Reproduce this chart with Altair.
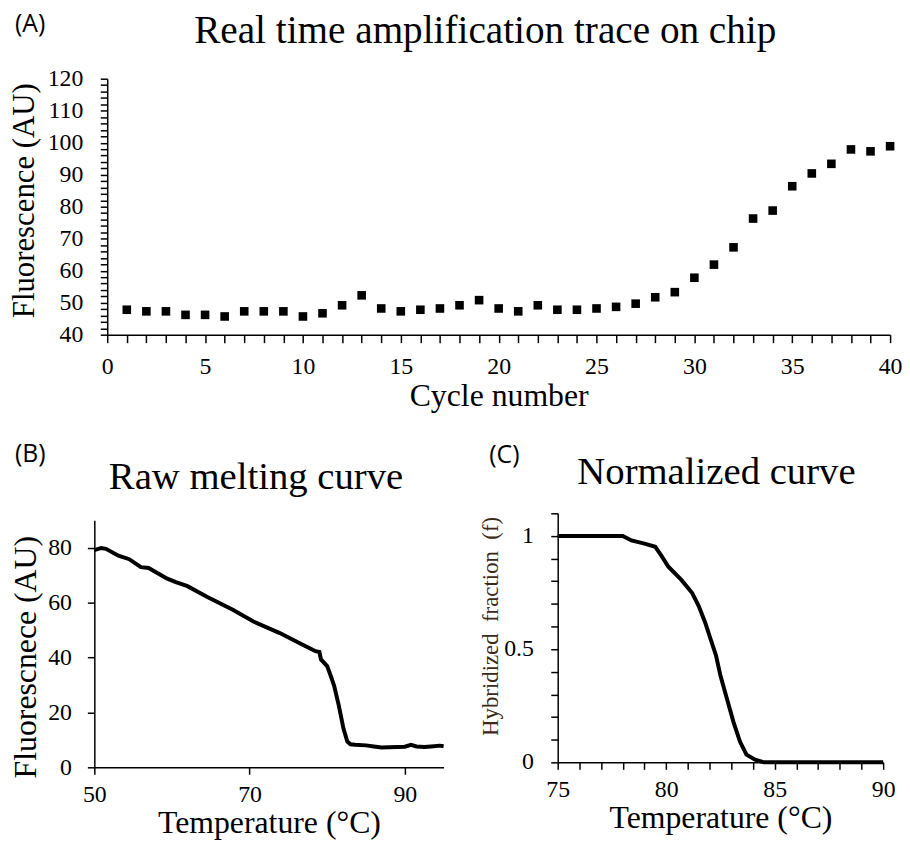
import altair as alt
import pandas as pd

# ---------------- data ----------------
cycles = list(range(1, 41))
fluorescence = [47.8, 47.3, 47.3, 46.2, 46.2, 45.7, 47.3, 47.3, 47.3, 45.7,
                46.7, 49.2, 52.3, 48.2, 47.3, 47.8, 48.2, 49.2, 50.8, 48.2,
                47.3, 49.2, 47.8, 47.8, 48.2, 48.7, 49.7, 51.7, 53.3, 57.8,
                61.9, 67.3, 76.3, 78.8, 86.4, 90.4, 93.4, 97.9, 97.3, 98.9]

raw_temp = [50.0, 50.9, 51.5, 53.1, 54.5, 56.0, 57.0, 58.0, 59.4, 60.5,
            62.0, 64.5, 67.9, 70.5, 73.9, 76.4, 78.0, 78.5, 79.0, 79.2,
            80.0, 80.5, 80.9, 81.5, 82.1, 82.6, 83.0, 83.6, 85.0, 86.0,
            87.0, 88.0, 89.0, 90.0, 90.8, 91.5, 92.5, 93.4, 94.5, 95.0]
raw_fluor = [79.1, 79.9, 79.6, 77.1, 75.8, 72.9, 72.6, 71.0, 68.7, 67.5,
             66.0, 62.1, 57.3, 53.1, 48.9, 45.3, 43.0, 42.3, 42.0, 39.3,
             36.9, 33.0, 29.7, 22.5, 14.1, 9.4, 8.4, 8.2, 8.0, 7.6,
             7.2, 7.3, 7.4, 7.5, 8.2, 7.6, 7.4, 7.6, 7.9, 7.7]

norm_temp = [75.0, 78.0, 78.4, 79.0, 79.5, 79.8, 80.1, 80.7, 81.2, 81.5,
             81.8, 82.1, 82.3, 82.5, 82.8, 83.1, 83.4, 83.7, 84.1, 84.5, 90.0]
norm_frac = [1.0, 1.0, 0.98, 0.966, 0.952, 0.91, 0.864, 0.806, 0.748, 0.69,
             0.617, 0.529, 0.471, 0.383, 0.281, 0.179, 0.092, 0.034, 0.012, 0.0, 0.0]

# ticks and tick labels
a_x_ticks = list(range(0, 41))
a_y_ticks = list(range(40, 121, 2))
a_y_label_values = [40, 50, 60, 70, 80, 90, 100, 110, 120]
a_y_label_text = ["40", "50", "60", "70", "80", "90", "100", "110", "120"]
b_x_ticks = [50, 70, 90]
b_y_ticks = [0, 20, 40, 60, 80]
c_x_ticks = list(range(75, 91))
c_y_ticks = [round(i * 0.1, 1) for i in range(0, 12)]
c_y_label_values = [0, 0.5, 1]
c_y_label_text = ["0", "0.5", "1"]

panel_labels = ["(A)", "(B)", "(C)"]
panel_titles = ["Real time amplification trace on chip", "Raw melting curve", "Normalized curve"]
y_titles = ["Fluorescence (AU)", "Fluorescnece (AU)", "Hybridized\u00a0\u00a0fraction\u00a0\u00a0(f)"]

SERIF = "Liberation Serif"
SANS = "Open Sans"

dfA = pd.DataFrame({"cycle": cycles, "fluor": fluorescence})
dfA_lab = pd.DataFrame({"fluor": a_y_label_values, "txt": a_y_label_text})
dfB = pd.DataFrame({"temp": raw_temp, "fluor": raw_fluor})
dfC = pd.DataFrame({"temp": norm_temp, "frac": norm_frac})
dfC_lab = pd.DataFrame({"frac": c_y_label_values, "txt": c_y_label_text})


def axis(**kw):
    base = dict(grid=False, domainColor="black", tickColor="black", labelColor="black",
                titleColor="black", labelFont=SERIF, titleFont=SERIF, titleFontWeight="normal",
                domainWidth=1.5, tickWidth=1.5, labelOverlap=False, labelFlush=False)
    base.update(kw)
    return alt.Axis(**base)


def label_layer(text, x, y):
    return alt.Chart(pd.DataFrame({"lab": [text]})).mark_text(
        align="left", baseline="top", font=SANS, fontSize=25, color="black"
    ).encode(x=alt.value(x), y=alt.value(y), text="lab:N")


def title_layer(text, x, y, size):
    return alt.Chart(pd.DataFrame({"ttl": [text]})).mark_text(
        align="center", baseline="middle", font=SERIF, fontSize=size, color="black"
    ).encode(x=alt.value(x), y=alt.value(y), text="ttl:N")


def ytitle_layer(text, x, y, size, color="black"):
    return alt.Chart(pd.DataFrame({"yt": [text]})).mark_text(
        align="center", baseline="middle", angle=270, font=SERIF, fontSize=size, color=color
    ).encode(x=alt.value(x), y=alt.value(y), text="yt:N")


# ---------------- panel A ----------------
# plot origin shared with panel B; A's axes start 13 px further right
yA = alt.Y("fluor:Q", scale=alt.Scale(domain=[40, 120], nice=False),
           axis=axis(values=a_y_ticks, labels=False, title=None, tickSize=7, offset=-13))
pointsA = alt.Chart(dfA).mark_square(size=75, color="black", opacity=1).encode(
    x=alt.X("cycle:Q", scale=alt.Scale(domain=[0, 40], nice=False, range=[13, 802]),
            axis=axis(values=a_x_ticks, labelExpr="datum.value % 5 == 0 ? datum.label : ''",
                      labelAlign="center", labelBaseline="top",
                      title="Cycle number", titleFontSize=32, labelFontSize=24,
                      tickSize=8, labelPadding=12, titlePadding=2)),
    y=yA,
)
ylabA = alt.Chart(dfA_lab).mark_text(
    align="right", baseline="middle", font=SERIF, fontSize=24, color="black"
).encode(x=alt.value(-11), y=yA, text="txt:N")
chartA = alt.layer(
    pointsA,
    ylabA,
    ytitle_layer(y_titles[0], -70, 123, 31),
    label_layer(panel_labels[0], -80, -67),
    title_layer(panel_titles[0], 394, -48, 39.5),
).properties(width=802, height=258)

# ---------------- panel B ----------------
lineB = alt.Chart(dfB).mark_line(color="black", strokeWidth=4, interpolate="linear").encode(
    x=alt.X("temp:Q", scale=alt.Scale(domain=[50, 95], nice=False),
            axis=axis(values=b_x_ticks, labelAlign="center", labelBaseline="top",
                      title="Temperature (°C)", titleFontSize=32,
                      labelFontSize=24, tickSize=7, labelPadding=8, titlePadding=2)),
    y=alt.Y("fluor:Q", scale=alt.Scale(domain=[0, 90], nice=False, range=[256, 7]),
            axis=axis(values=b_y_ticks, labelAlign="right", labelBaseline="middle",
                      title=None, labelFontSize=24, tickSize=7, labelPadding=16)),
)
chartB = alt.layer(
    lineB,
    ytitle_layer(y_titles[1], -69, 145, 32),
    label_layer(panel_labels[1], -80, -72),
    title_layer(panel_titles[1], 163, -36, 39),
).properties(width=352, height=256)

# ---------------- panel C ----------------
yC = alt.Y("frac:Q", scale=alt.Scale(domain=[0, 1.1], nice=False, range=[251, 0]),
           axis=axis(values=c_y_ticks, labels=False, title=None, tickSize=7))
lineC = alt.Chart(dfC).mark_line(color="black", strokeWidth=4, interpolate="linear").encode(
    x=alt.X("temp:Q", scale=alt.Scale(domain=[75, 90], nice=False),
            axis=axis(values=c_x_ticks, labelExpr="datum.value % 5 == 0 ? datum.label : ''",
                      labelAlign="center", labelBaseline="top",
                      title="Temperature (°C)", titleFontSize=32, labelFontSize=24,
                      tickSize=7, labelPadding=8, titlePadding=2, offset=-5)),
    y=yC,
)
ylabC = alt.Chart(dfC_lab).mark_text(
    align="right", baseline="middle", font=SERIF, fontSize=24, color="black"
).encode(x=alt.value(-24), y=yC, text="txt:N")
chartC = alt.layer(
    lineC,
    ylabC,
    ytitle_layer(y_titles[2], -67, 114, 23, "#3a2a1a"),
    label_layer(panel_labels[2], -69, -71),
    title_layer(panel_titles[2], 160, -42, 39),
).properties(width=328, height=256)

chart = alt.concat(
    chartA,
    alt.hconcat(chartB, chartC, spacing=28),
    columns=1,
    spacing=31,
    align="none",
).properties(padding=0).configure_view(stroke=None)

chart.save("out.html", embed_options={"renderer": "svg", "actions": False})
